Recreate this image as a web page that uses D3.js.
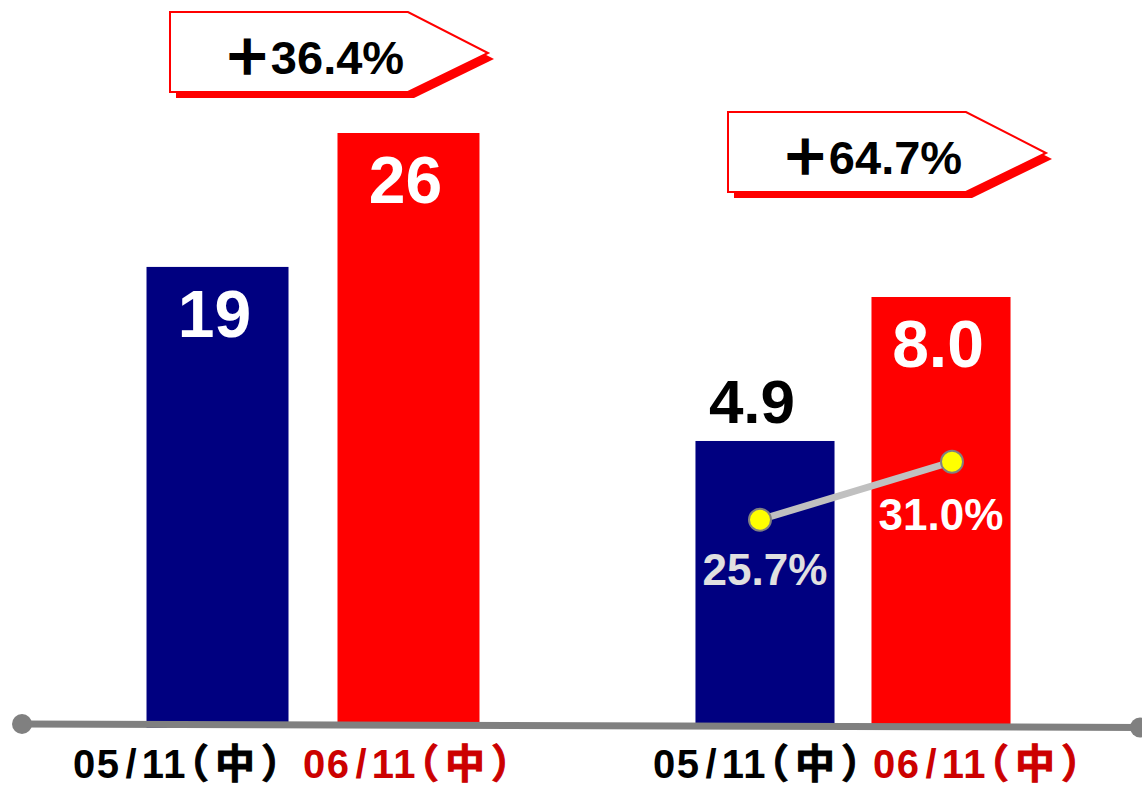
<!DOCTYPE html>
<meta charset="utf-8">
<script src="https://d3js.org/d3.v7.min.js"></script>
<style>
  body { margin: 0; background: #fff; }
  text { font-family: "Liberation Sans", Arial, "Noto Sans CJK JP", sans-serif; font-weight: bold; }
</style>
<div id="chart"></div>
<script>

// data
var groups = ["sales", "profit"];
var periods = ["05/11（中）", "06/11（中）"];
var salesValues = [19, 26];
var profitValues = [4.9, 8.0];
var marginValues = [25.7, 31.0];
var growthLabels = ["＋36.4%", "＋64.7%"];

var width = 1142, height = 786;

var svg = d3.select("#chart")
  .append("svg")
    .attr("width", width)
    .attr("height", height);

svg.append("rect").attr("width", width).attr("height", height).attr("fill", "#fff");

// x scales: one band per group, one band per period inside
var x0 = d3.scaleBand()
  .domain(groups)
  .range([43, 1123]);

// the two groups are not spaced quite the same in the original
var innerPad = { sales: [0.2565, 0.542], profit: [0.21, 0.639] };
var x1 = {};
groups.forEach(function(g) {
  x1[g] = d3.scaleBand()
    .domain(periods)
    .range([0, x0.bandwidth()])
    .paddingInner(innerPad[g][0])
    .paddingOuter(innerPad[g][1]);
});
function barCenter(g, p) { return x0(g) + x1[g](p) + x1[g].bandwidth() / 2; }

// each group has its own value scale
var yScales = {
  sales: d3.scaleLinear().domain([-5.1, 26]).range([728, 133]),
  profit: d3.scaleLinear().domain([-1.28, 8]).range([728, 297])
};
var yRatio = d3.scaleLinear().domain([0, 35]).range([801, 418]);

var colors = ["#000080", "#ff0000"];
var labelColors = ["#000000", "#cc0000"];

var seriesByGroup = { sales: salesValues, profit: profitValues };

// callouts (arrow boxes)
var calloutLayout = [{dx: 127, y: 12}, {dx: 145, y: 112}];
function arrowPath(x, y) {
  return "M" + x + "," + y +
    " L" + (x + 238) + "," + y +
    " L" + (x + 318) + "," + (y + 41) +
    " L" + (x + 238) + "," + (y + 80) +
    " L" + x + "," + (y + 80) + " Z";
}
groups.forEach(function(g, i) {
  var bx = x0(g) + calloutLayout[i].dx, by = calloutLayout[i].y;
  svg.append("path").attr("d", arrowPath(bx + 6, by + 6)).attr("fill", "#ff0000");
  svg.append("path").attr("d", arrowPath(bx, by))
    .attr("fill", "#fff").attr("stroke", "#ff0000").attr("stroke-width", 2);
  var t = svg.append("text")
    .attr("x", bx + 144).attr("y", by + 62)
    .attr("text-anchor", "middle")
    .style("font-size", "47px")
    .attr("fill", "#000");
  t.append("tspan")
    .attr("stroke", "#000").attr("stroke-width", 2.2)
    .text(growthLabels[i].slice(0, 1));
  t.append("tspan").text(growthLabels[i].slice(1));
});

// bars
groups.forEach(function(g) {
  var y = yScales[g];
  var data = seriesByGroup[g].map(function(v, j) { return {p: periods[j], v: v, j: j}; });
  svg.append("g").selectAll("rect")
    .data(data)
    .enter()
    .append("rect")
      .attr("x", function(d) { return x0(g) + x1[g](d.p); })
      .attr("y", function(d) { return y(d.v); })
      .attr("width", x1[g].bandwidth())
      .attr("height", function(d) { return y.range()[0] - y(d.v); })
      .attr("fill", function(d) { return colors[d.j]; });

  // value labels; the small profit bar carries its label above it
  svg.append("g").selectAll("text")
    .data(data)
    .enter()
    .append("text")
      .attr("x", function(d) {
        var above = g === "profit" && d.j === 0;
        return barCenter(g, d.p) + (above ? -13 : -3);
      })
      .attr("y", function(d) {
        return (g === "profit" && d.j === 0) ? y(d.v) - 18 : y(d.v) + 70;
      })
      .attr("text-anchor", "middle")
      .style("font-size", function(d) { return (g === "profit" && d.j === 0) ? "62px" : "66px"; })
      .attr("fill", function(d) { return (g === "profit" && d.j === 0) ? "#000" : "#fff"; })
      .text(function(d) { return g === "profit" ? d3.format(".1f")(d.v) : d.v; });
});

// margin line on the profit group
var pointShift = [-5, 11];
var ratioData = marginValues.map(function(v, j) {
  var c = barCenter("profit", periods[j]);
  return { x: c + pointShift[j], lx: c, y: yRatio(v), v: v, j: j };
});
svg.append("path")
  .datum(ratioData)
  .attr("d", d3.line().x(function(d) { return d.x; }).y(function(d) { return d.y; }))
  .attr("stroke", "#c0c0c0")
  .attr("stroke-width", 7)
  .attr("fill", "none");
svg.append("g").selectAll("circle")
  .data(ratioData)
  .enter()
  .append("circle")
    .attr("cx", function(d) { return d.x; })
    .attr("cy", function(d) { return d.y; })
    .attr("r", 11)
    .attr("fill", "#ffff00")
    .attr("stroke", "#808080")
    .attr("stroke-width", 2);
svg.append("g").selectAll("text")
  .data(ratioData)
  .enter()
  .append("text")
    .attr("x", function(d) { return d.lx; })
    .attr("y", function(d) { return d.y + (d.j === 0 ? 65 : 68); })
    .attr("text-anchor", "middle")
    .style("font-size", "44px")
    .attr("fill", function(d) { return d.j === 0 ? "#e0e0e0" : "#fff"; })
    .text(function(d) { return d3.format(".1f")(d.v) + "%"; });

// baseline axis with round ends
var axisEnds = [[22, 724], [1140, 727.5]];
svg.append("line")
  .attr("x1", axisEnds[0][0]).attr("y1", axisEnds[0][1])
  .attr("x2", axisEnds[1][0]).attr("y2", axisEnds[1][1])
  .attr("stroke", "#808080")
  .attr("stroke-width", 7);
svg.selectAll(".end")
  .data(axisEnds)
  .enter()
  .append("circle")
    .attr("cx", function(d) { return d[0]; })
    .attr("cy", function(d) { return d[1]; })
    .attr("r", 10)
    .attr("fill", "#808080");

// period labels under the axis
var labelStart = [30, 70];
var labelGap = [230, 220];
groups.forEach(function(g, i) {
  periods.forEach(function(p, j) {
    var parts = p.split("/");
    var rest = parts[1];
    var t = svg.append("text")
      .attr("x", x0(g) + labelStart[i] + j * labelGap[i])
      .attr("y", 778)
      .style("font-size", "40px")
      .attr("fill", labelColors[j]);
    t.append("tspan").style("letter-spacing", "1.5px").text(parts[0]);
    t.append("tspan").attr("dx", 5).text("/");
    t.append("tspan").attr("dx", 5).style("letter-spacing", "1.5px").text(rest.slice(0, 2));
    // half-width brackets around 中
    t.append("tspan")
      .attr("dx", 2)
      .style("font-feature-settings", "'halt' 1")
      .style("letter-spacing", "6px")
      .attr("stroke", labelColors[j]).attr("stroke-width", 0.9)
      .text(rest.slice(2));
  });
});

</script>
